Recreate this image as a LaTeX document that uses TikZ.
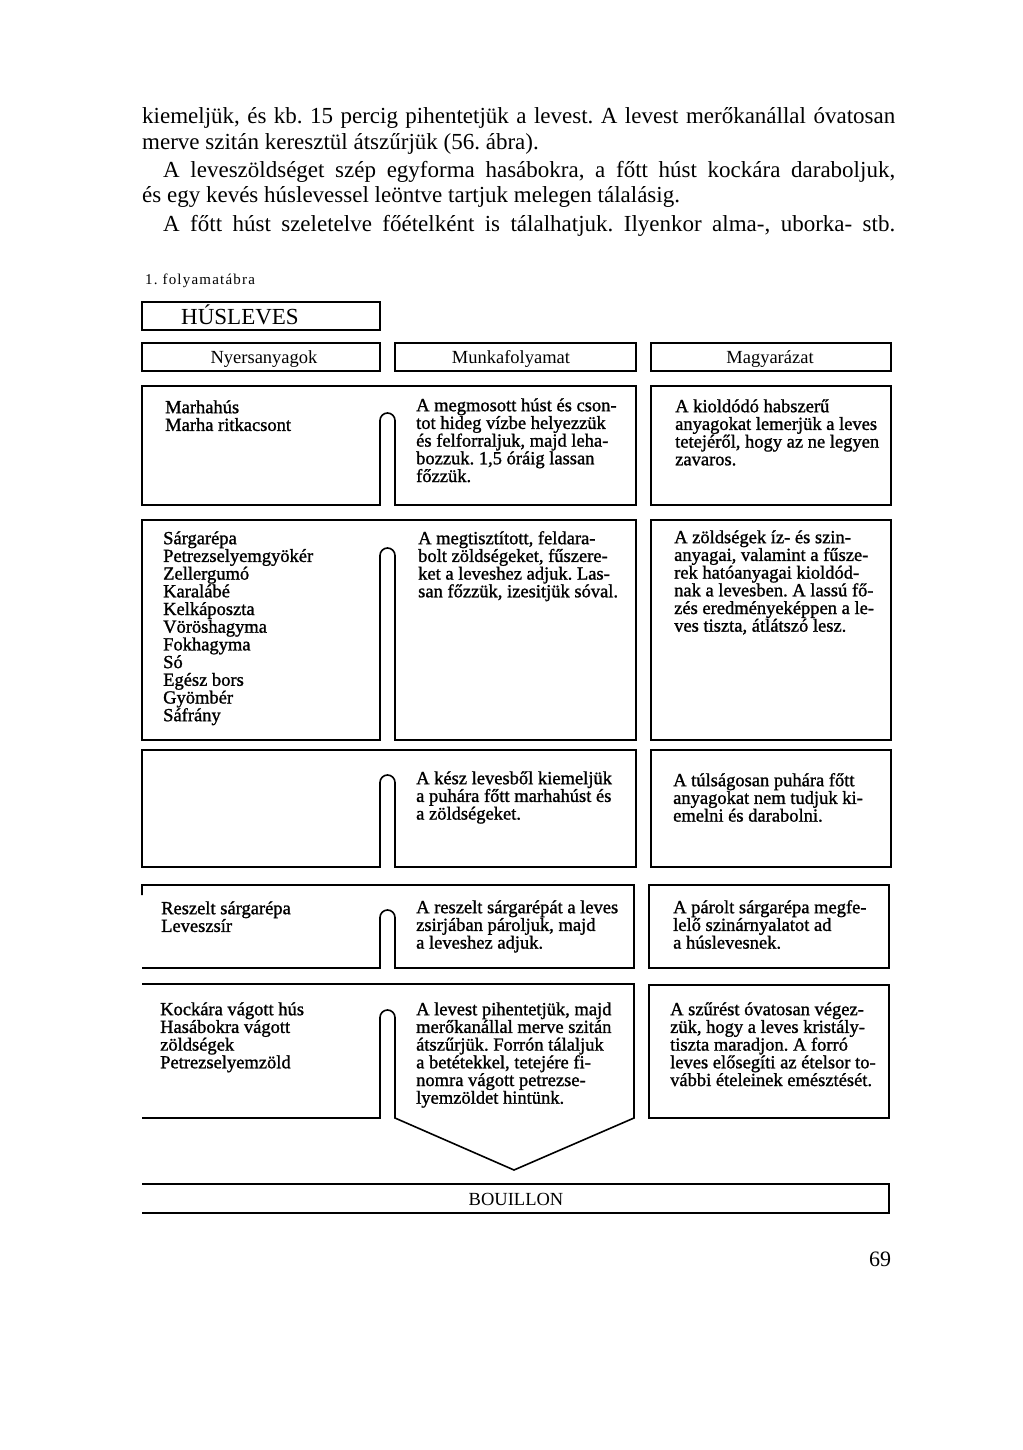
\documentclass[tikz,border=0pt]{standalone}
\usepackage{fontspec}
\setmainfont{Liberation Serif}
\newfontfamily\spacedfont[LetterSpace=8]{Liberation Serif}
\newfontfamily\boxfont[FakeBold=1.2]{Liberation Serif}
\newcommand{\fst}{\rule{0pt}{18pt}}
\begin{document}
\frenchspacing
\begin{tikzpicture}[x=1pt,y=-1pt,
  frame/.style={line width=1.6pt, line join=miter},
  body/.style={font=\fontsize{23}{27}\selectfont, anchor=base west, inner sep=0pt},
  hdr/.style={font=\fontsize{18.5}{20}\selectfont, anchor=base, inner sep=0pt},
  txt/.style={font=\fontsize{18.5}{17.7}\boxfont, align=left, anchor=north west, inner sep=0pt, yshift=18pt}]
\useasboundingbox[fill=white] (0,0) rectangle (1022,1450);

% body text
\node[body] (l1) at (142,124) {\makebox[753pt][s]{kiemeljük, és kb. 15 percig pihentetjük a levest. A levest merőkanállal óvatosan}};
\node[body] (l2) at (142,150) {merve szitán keresztül átszűrjük (56. ábra).};
\node[body] (l3) at (163,178) {\makebox[732pt][s]{A leveszöldséget szép egyforma hasábokra, a főtt húst kockára daraboljuk,}};
\node[body] (l4) at (142,203) {és egy kevés húslevessel leöntve tartjuk melegen tálalásig.};
\node[body] (l5) at (163,231) {\makebox[732pt][s]{A főtt húst szeletelve főételként is tálalhatjuk. Ilyenkor alma-, uborka- stb.}};

\node[anchor=base west, inner sep=0pt, font=\fontsize{15}{18}\spacedfont] (cap) at (145,284) {1. folyamatábra};

% title and headers
\draw[frame] (142,302) rectangle (380,330);
\node[hdr, font=\fontsize{23}{26}\selectfont] (title) at (240,324) {HÚSLEVES};
\draw[frame] (142,343) rectangle (380,371);
\draw[frame] (395,343) rectangle (636,371);
\draw[frame] (651,343) rectangle (891,371);
\node[hdr] (h1) at (264,363) {Nyersanyagok};
\node[hdr] (h2) at (511,363) {Munkafolyamat};
\node[hdr] (h3) at (770,363) {Magyarázat};

% row 1
\draw[frame] (380,505) -- (380,420.5) arc[start angle=180,end angle=360,radius=7.5] -- (395,505) -- (636,505) -- (636,386) -- (142,386) -- (142,505) -- cycle;
\draw[frame] (651,386) rectangle (891,505);
\node[txt] (r1a) at (165,413) {\fst Marhahús\\Marha ritkacsont};
\node[txt] (r1b) at (416,411) {\fst A megmosott húst és cson-\\tot hideg vízbe helyezzük\\és felforraljuk, majd leha-\\bozzuk. 1,5 óráig lassan\\főzzük.};
\node[txt] (r1c) at (675,412) {\fst A kioldódó habszerű\\anyagokat lemerjük a leves\\tetejéről, hogy az ne legyen\\zavaros.};

% row 2
\draw[frame] (380,740) -- (380,555.5) arc[start angle=180,end angle=360,radius=7.5] -- (395,740) -- (636,740) -- (636,520) -- (142,520) -- (142,740) -- cycle;
\draw[frame] (651,520) rectangle (891,740);
\node[txt] (r2a) at (163,544) {\fst Sárgarépa\\Petrezselyemgyökér\\Zellergumó\\Karalábé\\Kelkáposzta\\Vöröshagyma\\Fokhagyma\\Só\\Egész bors\\Gyömbér\\Sáfrány};
\node[txt] (r2b) at (418,544) {\fst A megtisztított, feldara-\\bolt zöldségeket, fűszere-\\ket a leveshez adjuk. Las-\\san főzzük, izesitjük sóval.};
\node[txt] (r2c) at (674,543) {\fst A zöldségek íz- és szin-\\anyagai, valamint a fűsze-\\rek hatóanyagai kioldód-\\nak a levesben. A lassú fő-\\zés eredményeképpen a le-\\ves tiszta, átlátszó lesz.};

% row 3
\draw[frame] (380,867) -- (380,782.5) arc[start angle=180,end angle=360,radius=7.5] -- (395,867) -- (636,867) -- (636,750) -- (142,750) -- (142,867) -- cycle;
\draw[frame] (651,750) rectangle (891,867);
\node[txt] (r3b) at (416,784) {\fst A kész levesből kiemeljük\\a puhára főtt marhahúst és\\a zöldségeket.};
\node[txt] (r3c) at (673,786) {\fst A túlságosan puhára főtt\\anyagokat nem tudjuk ki-\\emelni és darabolni.};

% row 4
\draw[frame] (142,895) -- (142,885) -- (634,885) -- (634,968) -- (395,968) -- (395,917.5) arc[start angle=0,end angle=-180,radius=7.5] -- (380,968) -- (142,968);
\draw[frame] (649,885) rectangle (889,968);
\node[txt] (r4a) at (161,914) {\fst Reszelt sárgarépa\\Leveszsír};
\node[txt] (r4b) at (416,913) {\fst A reszelt sárgarépát a leves\\zsirjában pároljuk, majd\\a leveshez adjuk.};
\node[txt] (r4c) at (673,913) {\fst A párolt sárgarépa megfe-\\lelő szinárnyalatot ad\\a húslevesnek.};

% row 5
\draw[frame] (142,984) -- (634,984) -- (634,1118) -- (514,1170) -- (395,1118) -- (395,1017.5) arc[start angle=0,end angle=-180,radius=7.5] -- (380,1118) -- (142,1118);
\draw[frame] (649,985) rectangle (889,1118);
\node[txt] (r5a) at (160,1015) {\fst Kockára vágott hús\\Hasábokra vágott\\zöldségek\\Petrezselyemzöld};
\node[txt] (r5b) at (416,1015) {\fst A levest pihentetjük, majd\\merőkanállal merve szitán\\átszűrjük. Forrón tálaljuk\\a betétekkel, tetejére fi-\\nomra vágott petrezse-\\lyemzöldet hintünk.};
\node[txt] (r5c) at (670,1015) {\fst A szűrést óvatosan végez-\\zük, hogy a leves kristály-\\tiszta maradjon. A forró\\leves elősegíti az ételsor to-\\vábbi ételeinek emésztését.};

% result
\draw[frame] (142,1184) -- (889,1184) -- (889,1213) -- (142,1213);
\node[hdr] (res) at (516,1205) {BOUILLON};

\node[anchor=base, inner sep=0pt, font=\fontsize{22}{24}\selectfont] (page) at (880,1266) {69};
\end{tikzpicture}
\end{document}
